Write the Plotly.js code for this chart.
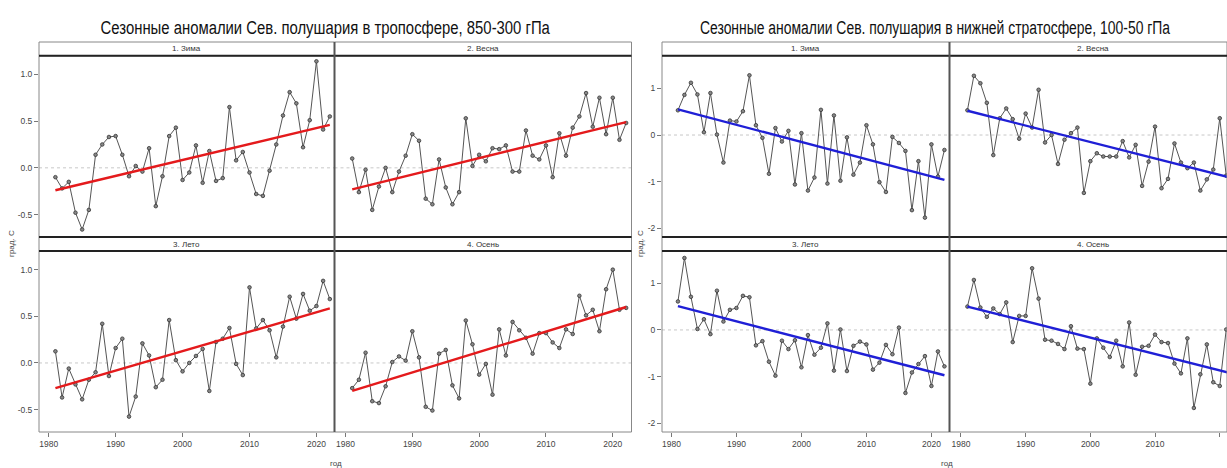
<!DOCTYPE html>
<html>
<head>
<meta charset="utf-8">
<script src="https://cdn.plot.ly/plotly-3.0.1.min.js"></script>
<style>html,body{margin:0;padding:0;background:#fff;}#chart{width:1227px;height:468px;}</style>
</head>
<body>
<div id="chart"></div>
<script>
// ---------------- DATA ----------------
const years = [1981,1982,1983,1984,1985,1986,1987,1988,1989,1990,
               1991,1992,1993,1994,1995,1996,1997,1998,1999,2000,
               2001,2002,2003,2004,2005,2006,2007,2008,2009,2010,
               2011,2012,2013,2014,2015,2016,2017,2018,2019,2020,
               2021,2022];
const trendYears = [1981, 2022];
const xTickVals = [1980, 1990, 2000, 2010, 2020];
const xTickText = ["1980", "1990", "2000", "2010", "2020"];
const tropYTickVals = [-0.5, 0.0, 0.5, 1.0];
const tropYTickText = ["-0.5", "0.0", "0.5", "1.0"];
const stratYTickVals = [-2, -1, 0, 1];
const stratYTickText = ["-2", "-1", "0", "1"];

const seasonNames = ["1. Зима", "2. Весна", "3. Лето", "4. Осень"];
const tropTitle = "Сезонные аномалии Сев. полушария в тропосфере, 850-300 гПа";
const stratTitle = "Сезонные аномалии Сев. полушария в нижней стратосфере, 100-50 гПа";
const xLabel = "год";
const yLabel = "град. С";

// troposphere 850-300 hPa
const tropWinter = [-0.10,-0.22,-0.15,-0.48,-0.66,-0.45,0.14,0.25,0.33,0.34,
                    0.14,-0.09,0.02,-0.04,0.21,-0.41,-0.09,0.34,0.43,-0.13,
                    -0.05,0.24,-0.16,0.18,-0.14,-0.11,0.65,0.08,0.17,-0.05,
                    -0.28,-0.30,-0.03,0.25,0.56,0.81,0.69,0.22,0.51,1.14,
                    0.41,0.55];
const tropSpring = [0.10,-0.26,-0.02,-0.45,-0.20,0.00,-0.26,-0.04,0.13,0.36,
                    0.29,-0.33,-0.39,0.09,-0.21,-0.39,-0.26,0.53,0.02,0.14,
                    0.07,0.21,0.20,0.24,-0.04,-0.04,0.40,0.13,0.09,0.24,
                    -0.10,0.37,0.13,0.43,0.55,0.80,0.44,0.75,0.36,0.75,
                    0.30,0.48];
const tropSummer = [0.125,-0.37,-0.06,-0.23,-0.39,-0.18,-0.10,0.42,-0.14,0.16,
                    0.26,-0.575,-0.36,0.21,0.08,-0.26,-0.18,0.46,0.03,-0.09,
                    0.00,0.075,0.15,-0.30,0.225,0.26,0.375,-0.01,-0.13,0.81,
                    0.37,0.46,0.35,0.06,0.39,0.71,0.475,0.74,0.56,0.61,
                    0.88,0.685];
const tropAutumn = [-0.27,-0.18,0.11,-0.41,-0.43,-0.25,0.01,0.07,0.025,0.34,
                    0.06,-0.47,-0.51,0.10,0.14,-0.24,-0.38,0.455,0.20,-0.125,
                    -0.01,-0.34,0.36,0.08,0.44,0.35,0.27,0.10,0.32,0.32,
                    0.22,0.16,0.36,0.31,0.72,0.51,0.57,0.34,0.79,1.00,
                    0.57,0.59];
// lower stratosphere 100-50 hPa (spring/autumn visible only to 2021)
const stratWinter = [0.53,0.86,1.12,0.87,0.06,0.90,0.01,-0.59,0.31,0.29,
                     0.51,1.28,0.21,-0.06,-0.83,0.15,-0.14,0.09,-1.06,0.04,
                     -1.19,-0.91,0.54,-1.04,0.42,-0.98,-0.05,-0.85,-0.59,0.21,
                     -0.20,-1.01,-1.22,-0.04,-0.17,-0.34,-1.61,-0.56,-1.77,-0.20,
                     -0.89,-0.32];
const stratSpring = [0.53,1.27,1.11,0.69,-0.43,0.36,0.57,0.34,-0.08,0.46,
                     0.16,0.97,-0.16,0.00,-0.62,-0.10,0.04,0.16,-1.24,-0.56,
                     -0.39,-0.46,-0.46,-0.46,-0.13,-0.48,-0.21,-1.09,-0.57,0.18,
                     -1.14,-0.94,-0.18,-0.59,-0.71,-0.59,-1.19,-0.95,-0.74,0.36,
                     -0.87];
const stratSummer = [0.61,1.54,0.71,0.02,0.23,-0.09,0.84,0.18,0.43,0.47,
                     0.73,0.70,-0.33,-0.24,-0.68,-0.98,-0.23,-0.41,-0.22,-0.80,
                     -0.11,-0.53,-0.38,0.14,-0.87,0.01,-0.88,-0.34,-0.25,-0.31,
                     -0.85,-0.70,-0.32,-0.52,0.05,-1.35,-0.91,-0.73,-0.56,-1.20,
                     -0.46,-0.78];
const stratAutumn = [0.50,1.07,0.48,0.28,0.46,0.34,0.59,-0.26,0.30,0.30,
                     1.32,0.67,-0.21,-0.23,-0.30,-0.41,0.08,-0.40,-0.41,-1.15,
                     -0.18,-0.38,-0.58,-0.23,-0.78,0.16,-0.96,-0.36,-0.34,-0.10,
                     -0.26,-0.28,-0.72,-0.93,-0.18,-1.67,-0.95,-0.31,-1.12,-1.20,
                     0.01];

// linear trend values at 1981 and 2022
const tropWinterTrend = [-0.24, 0.46];
const tropSpringTrend = [-0.23, 0.49];
const tropSummerTrend = [-0.27, 0.585];
const tropAutumnTrend = [-0.30, 0.60];
const stratWinterTrend = [0.55, -0.96];
const stratSpringTrend = [0.52, -0.925];
const stratSummerTrend = [0.51, -0.97];
const stratAutumnTrend = [0.50, -0.935];

// ---------------- LAYOUT HELPERS ----------------
const W = 1227, H = 468;
const fx = px => px / W;
const fy = py => 1 - py / H;

const FONT = "'Liberation Sans', Arial, sans-serif";
const RED = '#e41a1c', BLUE = '#1f1fd6';

const rowsPx = {top: [55.7, 237], bottom: [251, 432]};
const stripPx = {top: [42, 55.7], bottom: [237, 251]};
const panels = [
  {series: tropWinter, trend: tropWinterTrend, col: [39, 334.5], row: 'top', range: [1978.55, 2022.7], yr: [-0.74, 1.2], first: true, color: RED, name: seasonNames[0], chart: 'trop'},
  {series: tropSpring, trend: tropSpringTrend, col: [334.5, 631.5], row: 'top', range: [1978.35, 2022.8], yr: [-0.74, 1.2], first: false, color: RED, name: seasonNames[1], chart: 'trop'},
  {series: tropSummer, trend: tropSummerTrend, col: [39, 334.5], row: 'bottom', range: [1978.55, 2022.7], yr: [-0.74, 1.2], first: true, color: RED, name: seasonNames[2], chart: 'trop'},
  {series: tropAutumn, trend: tropAutumnTrend, col: [334.5, 631.5], row: 'bottom', range: [1978.35, 2022.8], yr: [-0.74, 1.2], first: false, color: RED, name: seasonNames[3], chart: 'trop'},
  {series: stratWinter, trend: stratWinterTrend, col: [662, 949.5], row: 'top', range: [1978.55, 2022.78], yr: [-2.185, 1.70], first: true, color: BLUE, name: seasonNames[0], chart: 'strat'},
  {series: stratSpring, trend: stratSpringTrend, col: [949.5, 1227], row: 'top', range: [1978.23, 2021.12], yr: [-2.185, 1.70], first: false, color: BLUE, name: seasonNames[1], chart: 'strat', stripCenter: 1093},
  {series: stratSummer, trend: stratSummerTrend, col: [662, 949.5], row: 'bottom', range: [1978.55, 2022.78], yr: [-2.185, 1.69], first: true, color: BLUE, name: seasonNames[2], chart: 'strat'},
  {series: stratAutumn, trend: stratAutumnTrend, col: [949.5, 1227], row: 'bottom', range: [1978.23, 2021.12], yr: [-2.185, 1.69], first: false, color: BLUE, name: seasonNames[3], chart: 'strat', stripCenter: 1093}
];

const data = [];
const layout = {
  width: W, height: H,
  margin: {l: 0, r: 0, t: 0, b: 0, pad: 0},
  paper_bgcolor: '#fff', plot_bgcolor: '#fff',
  showlegend: false,
  font: {family: FONT, color: '#444', size: 9},
  shapes: [], annotations: []
};

panels.forEach((p, i) => {
  const n = i + 1;
  const xa = n === 1 ? 'x' : 'x' + n;
  const ya = n === 1 ? 'y' : 'y' + n;
  const xKey = n === 1 ? 'xaxis' : 'xaxis' + n;
  const yKey = n === 1 ? 'yaxis' : 'yaxis' + n;
  const rp = rowsPx[p.row];
  const sp = stripPx[p.row];
  const isBottom = p.row === 'bottom';
  const isTrop = p.chart === 'trop';

  layout.shapes.push({type: 'line', xref: xa + ' domain', yref: ya, x0: 0, x1: 1, y0: 0, y1: 0,
    line: {color: '#c8c8c8', width: 1, dash: 'dot'}, layer: 'below'});

  data.push({
    x: years.slice(0, p.series.length), y: p.series, xaxis: xa, yaxis: ya,
    type: 'scatter', mode: 'lines+markers',
    line: {color: '#555', width: 1},
    marker: {symbol: 'circle', size: 3.6, color: '#888', line: {color: '#333', width: 0.8}},
    cliponaxis: true, hoverinfo: 'skip'
  });
  data.push({
    x: trendYears, y: p.trend, xaxis: xa, yaxis: ya,
    type: 'scatter', mode: 'lines',
    line: {color: p.color, width: 2.4}, hoverinfo: 'skip'
  });

  layout[xKey] = {
    domain: [fx(p.col[0]), fx(p.col[1])],
    range: p.range, anchor: ya, fixedrange: true,
    showgrid: false, zeroline: false, showline: false,
    tickmode: 'array', tickvals: xTickVals, ticktext: xTickText,
    ticks: isBottom ? 'outside' : '', ticklen: 4, tickcolor: '#777', tickwidth: 1,
    showticklabels: isBottom,
    tickfont: {family: FONT, size: 8.5, color: '#444'}
  };
  layout[yKey] = {
    domain: [fy(rp[1]), fy(rp[0])],
    range: p.yr, anchor: xa, fixedrange: true,
    showgrid: false, zeroline: false, showline: false,
    tickmode: 'array',
    tickvals: isTrop ? tropYTickVals : stratYTickVals,
    ticktext: isTrop ? tropYTickText : stratYTickText,
    ticks: p.first ? 'outside' : '', ticklen: 4, tickcolor: '#777', tickwidth: 1,
    showticklabels: p.first,
    tickfont: {family: FONT, size: 8.5, color: '#444'}
  };

  layout.shapes.push({type: 'rect', xref: 'paper', yref: 'paper',
    x0: fx(p.col[0]), x1: fx(p.col[1]), y0: fy(rp[1]), y1: fy(rp[0]),
    line: {color: '#888', width: 1}, fillcolor: 'rgba(0,0,0,0)', layer: 'above'});
  layout.shapes.push({type: 'rect', xref: 'paper', yref: 'paper',
    x0: fx(p.col[0]), x1: fx(p.col[1]), y0: fy(sp[1]), y1: fy(sp[0]),
    line: {color: '#888', width: 1}, fillcolor: '#fff', layer: 'above'});
  const cx = p.stripCenter !== undefined ? p.stripCenter : (p.col[0] + p.col[1]) / 2;
  layout.annotations.push({xref: 'paper', yref: 'paper',
    x: fx(cx), y: fy((sp[0] + sp[1]) / 2), text: p.name, showarrow: false,
    xanchor: 'center', yanchor: 'middle', font: {family: FONT, size: 8, color: '#333'}});
});

const charts = [
  {x0: 39, x1: 631.5, mid: 334.5, title: tropTitle, titleX: 325, titleW: 450, xlabX: 336, ylabX: 11},
  {x0: 662, x1: 1227, mid: 949.5, title: stratTitle, titleX: 934.5, titleW: 471, xlabX: 947, ylabX: 640}
];
charts.forEach(c => {
  [55.7, 237, 251].forEach(py => {
    layout.shapes.push({type: 'line', xref: 'paper', yref: 'paper',
      x0: fx(c.x0), x1: fx(c.x1), y0: fy(py), y1: fy(py),
      line: {color: '#222', width: 2}, layer: 'above'});
  });
  layout.shapes.push({type: 'line', xref: 'paper', yref: 'paper',
    x0: fx(c.mid), x1: fx(c.mid), y0: fy(42), y1: fy(432),
    line: {color: '#555', width: 2}, layer: 'above'});
  layout.annotations.push({xref: 'paper', yref: 'paper', x: fx(c.titleX), y: fy(27),
    text: c.title, showarrow: false, xanchor: 'center', yanchor: 'middle',
    font: {family: FONT, size: 19, color: '#111'}});
  layout.annotations.push({xref: 'paper', yref: 'paper', x: fx(c.xlabX), y: fy(463),
    text: xLabel, showarrow: false, xanchor: 'center', yanchor: 'middle',
    font: {family: FONT, size: 8, color: '#444'}});
  layout.annotations.push({xref: 'paper', yref: 'paper', x: fx(c.ylabX), y: fy(244),
    text: yLabel, showarrow: false, xanchor: 'center', yanchor: 'middle', textangle: -90,
    font: {family: FONT, size: 8, color: '#444'}});
});

Plotly.newPlot('chart', data, layout, {displayModeBar: false, staticPlot: true}).then(() => {
  // condense the two titles horizontally (the original uses a narrow typeface)
  const titleWidths = {};
  charts.forEach(c => { titleWidths[c.title] = c.titleW; });
  document.querySelectorAll('.annotation').forEach(g => {
    const t = g.querySelector('.annotation-text');
    if (!t) return;
    const w = titleWidths[t.textContent];
    if (!w) return;
    const bb = t.getBBox();
    const sx = w / bb.width;
    const cx = bb.x + bb.width / 2;
    t.setAttribute('transform', 'matrix(' + sx + ',0,0,1,' + (cx * (1 - sx)) + ',0)');
    // shrink the invisible background box as well
    const r = g.querySelector('.bg');
    if (r) {
      const rb = r.getBBox();
      const rcx = rb.x + rb.width / 2;
      r.setAttribute('transform', 'matrix(' + sx + ',0,0,1,' + (rcx * (1 - sx)) + ',0)');
    }
  });
});
</script>
</body>
</html>
